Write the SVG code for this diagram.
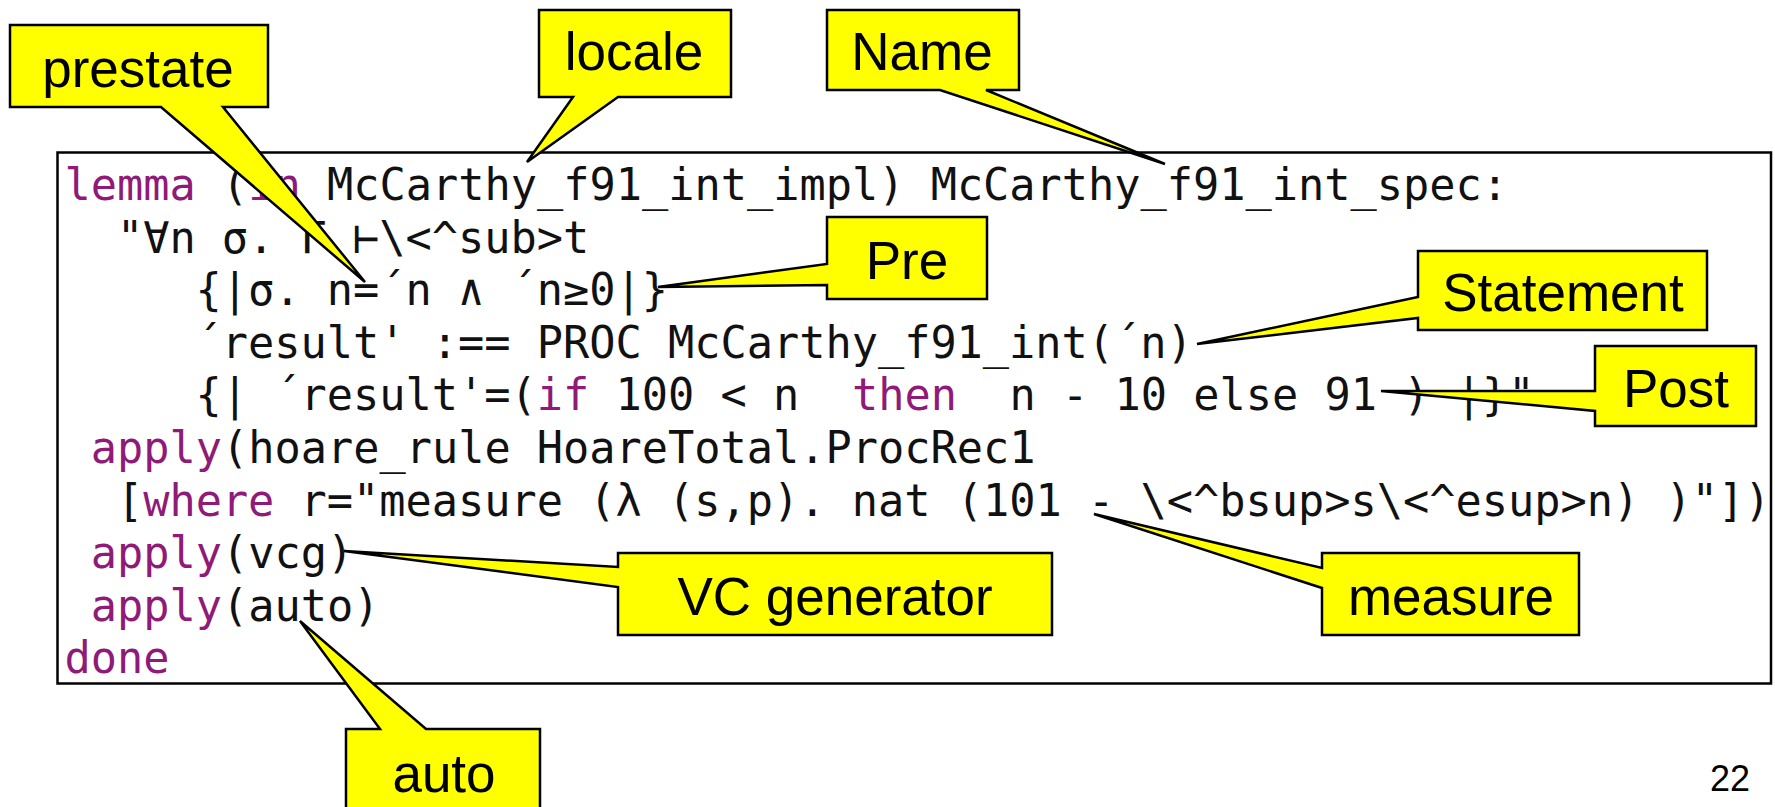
<svg xmlns="http://www.w3.org/2000/svg" width="1775" height="807" viewBox="0 0 1775 807">
  <style>
    .code { font-family: "DejaVu Sans Mono", "Liberation Mono", monospace; font-size: 43.6px; fill: #111; white-space: pre; }
    .k { fill: #8f1a78; }
    .callout { fill: #ffff00; stroke: #000; stroke-width: 2.5; stroke-linejoin: miter; }
    .lbl { font-family: "Liberation Sans", Arial, sans-serif; font-size: 53px; fill: #000; text-anchor: middle; }
    .page { font-family: "Liberation Sans", Arial, sans-serif; font-size: 36px; fill: #000; text-anchor: end; }
  </style>
  <rect width="1775" height="807" fill="#fff"/>

  <g id="code-listing">
    <rect x="57.5" y="152.5" width="1713.5" height="531" fill="#fff" stroke="#000" stroke-width="2.5"/>
    <g class="code" xml:space="preserve">
      <text x="64.5" y="200"><tspan class="k">lemma</tspan> (<tspan class="k">in</tspan> McCarthy_f91_int_impl) McCarthy_f91_int_spec:</text>
      <text x="116.9" y="252.6">"∀n σ. Γ ⊢\&lt;^sub&gt;t</text>
      <text x="195.5" y="305.2">{|σ. n=´n ∧ ´n≥0|}</text>
      <text x="195.5" y="357.8">´result' :== PROC McCarthy_f91_int(´n)</text>
      <text x="195.5" y="410.4">{| ´result'=(<tspan class="k">if</tspan> 100 &lt; n<tspan class="k" x="852">then</tspan><tspan x="1009.5">n - 10 else 91 ) |}"</tspan></text>
      <text x="90.7" y="463"><tspan class="k">apply</tspan>(hoare_rule HoareTotal.ProcRec1</text>
      <text x="116.9" y="515.6">[<tspan class="k">where</tspan> r="measure (λ (s,p). nat (101 - \&lt;^bsup&gt;s\&lt;^esup&gt;n) )"])</text>
      <text x="90.7" y="568.2"><tspan class="k">apply</tspan>(vcg)</text>
      <text x="90.7" y="620.8"><tspan class="k">apply</tspan>(auto)</text>
      <text x="64.5" y="673.4" class="k">done</text>
    </g>
  </g>

  <g id="connectors"></g>

  <g id="prestate">
    <path class="callout" d="M10,25 H268 V107 H223 L365,282 L161,107 H10 Z"/>
    <text class="lbl" x="138" y="87">prestate</text>
  </g>
  <g id="locale">
    <path class="callout" d="M539,10 H731 V97 H618 L527,162 L573,97 H539 Z"/>
    <text class="lbl" x="634" y="70">locale</text>
  </g>
  <g id="name">
    <path class="callout" d="M827,10 H1019 V90 H986 L1165,164 L940,90 H827 Z"/>
    <text class="lbl" x="922" y="70">Name</text>
  </g>
  <g id="pre">
    <path class="callout" d="M827,217 H987 V299 H827 V285 L658,287 L827,264 Z"/>
    <text class="lbl" x="907" y="279">Pre</text>
  </g>
  <g id="statement">
    <path class="callout" d="M1418,251 H1707 V330 H1418 V318 L1197,344 L1418,297 Z"/>
    <text class="lbl" x="1563" y="311">Statement</text>
  </g>
  <g id="post">
    <path class="callout" d="M1595,346 H1756 V426 H1595 V411 L1381,391 L1595,391 Z"/>
    <text class="lbl" x="1676" y="407">Post</text>
  </g>
  <g id="vc-generator">
    <path class="callout" d="M618,553 H1052 V635 H618 V587 L344,551 L618,567 Z"/>
    <text class="lbl" x="835" y="615">VC generator</text>
  </g>
  <g id="measure">
    <path class="callout" d="M1322,553 H1579 V635 H1322 V588 L1094,514 L1322,568 Z"/>
    <text class="lbl" x="1451" y="615">measure</text>
  </g>
  <g id="auto">
    <path class="callout" d="M346,729 H380 L300,621 L426,729 H540 V830 H346 Z"/>
    <text class="lbl" x="444" y="792">auto</text>
  </g>

  <text class="page" x="1750" y="791">22</text>
</svg>
